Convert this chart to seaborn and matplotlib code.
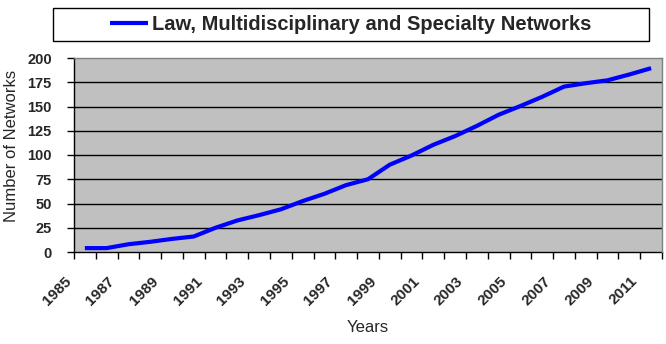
import matplotlib
matplotlib.use("Agg")
import matplotlib.pyplot as plt
import seaborn as sns
import numpy as np
import pandas as pd
from matplotlib.patches import Rectangle

years = list(range(1985, 2012))
networks = [4, 4, 8, 10.5, 13.5, 16, 25, 32.5, 38, 44, 52.5, 60, 69, 75,
            90, 99.5, 110.5, 119.5, 130, 141.5, 150.5, 160, 170.5, 174, 177, 183, 189.5]
series_name = "Law, Multidisciplinary and Specialty Networks"
y_ticks = [0, 25, 50, 75, 100, 125, 150, 175, 200]
x_label_years = list(range(1985, 2012, 2))

df = pd.DataFrame({"Years": years, "Networks": networks})

sns.set_theme(style="white")
plt.rcParams['font.family'] = ['Liberation Sans', 'DejaVu Sans']

W, H = 666, 344
fig = plt.figure(figsize=(W / 100, H / 100), dpi=100)
ax = fig.add_axes([74 / W, 1 - 252 / H, (662 - 74) / W, (252 - 58) / H])
ax.set_facecolor("#C0C0C0")

sns.lineplot(data=df, x="Years", y="Networks", color="#0000FF", lw=3.0,
             ax=ax, label=series_name, legend=False, solid_capstyle="butt")

ax.set_xlim(years[0] - 0.5, years[-1] + 0.5)
ax.set_ylim(0, 200)

# y axis
ax.set_yticks(y_ticks)
ax.set_yticklabels([str(v) for v in y_ticks], fontsize=10.5, fontweight="bold")
ax.yaxis.grid(True, color="black", lw=1.0)
ax.set_axisbelow(True)

# x axis: ticks at category boundaries, labels left of every other category
bounds = [y - 0.5 for y in years] + [years[-1] + 0.5]
labels = [str(y) if y in x_label_years else "" for y in years] + [""]
ax.set_xticks(bounds)
ax.set_xticklabels(labels, rotation=45, ha="right", fontsize=11, fontweight="bold")
ax.xaxis.grid(False)

ax.tick_params(axis="both", which="major", direction="out", length=5, width=1,
               color="black", bottom=True, left=True, top=False, right=False)
ax.tick_params(axis="y", pad=11)
ax.tick_params(axis="x", pad=11)

for s in ["left", "bottom"]:
    ax.spines[s].set_color("black")
    ax.spines[s].set_linewidth(1.0)
for s in ["top", "right"]:
    ax.spines[s].set_color("#808080")
    ax.spines[s].set_linewidth(1.0)
    ax.spines[s].set_zorder(5)

ax.set_xlabel("")
ax.set_ylabel("")
fig.text(368 / W, 1 - 328 / H, "Years", fontsize=12, ha="center", va="center")
fig.text(12 / W, 1 - 146 / H, "Number of Networks", fontsize=12, ha="center",
         va="center", rotation=90)

# legend box
fig.patches.append(Rectangle((53 / W, 1 - 41 / H), (649 - 53) / W, (41 - 8) / H,
                             transform=fig.transFigure, facecolor="white",
                             edgecolor="black", lw=1.0))
handles, lbls = ax.get_legend_handles_labels()
fig.legend(handles, lbls, loc="center", bbox_to_anchor=(351 / W, 1 - 24.5 / H),
           frameon=False, prop={"size": 14.5, "weight": "bold"},
           handlelength=1.9, handletextpad=0.2, borderpad=0)

# hide gridline at the top edge
fig.canvas.draw()
for gl, t in zip(ax.yaxis.get_gridlines(), ax.get_yticks()):
    if t >= 200 or t <= 0:
        gl.set_visible(False)

fig.savefig("out.png", dpi=100)
